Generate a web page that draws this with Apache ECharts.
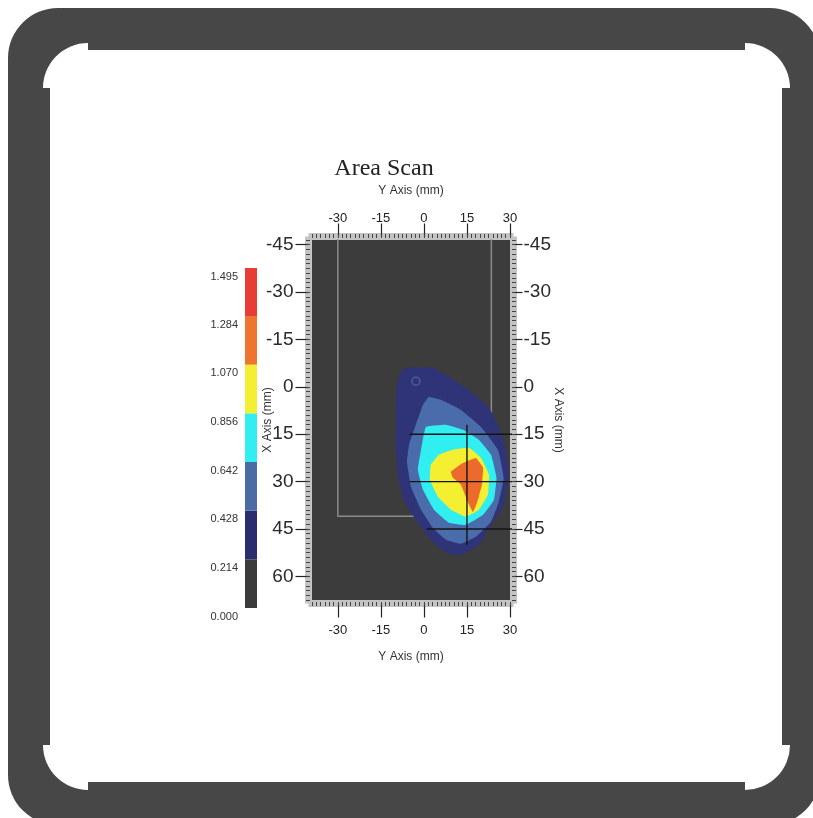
<!DOCTYPE html>
<html><head><meta charset="utf-8">
<script src="https://cdn.jsdelivr.net/npm/echarts@6/dist/echarts.min.js"></script>
<style>html,body{margin:0;padding:0;background:#fff}#c{width:813px;height:818px}</style>
</head><body><div id="c"></div>
<script>
// ---- data ----
const yAxisMmTicks = [-30, -15, 0, 15, 30];                 // horizontal axis (Y Axis mm)
const xAxisMmTicks = [-45, -30, -15, 0, 15, 30, 45, 60];    // vertical axis (X Axis mm)
const colorLevels = [0.000, 0.214, 0.428, 0.642, 0.856, 1.070, 1.284, 1.495];

// contour regions, points as [Y mm, X mm]
const contour0214 = [[-8.0,-4.7],[-6.3,-6.0],[3.1,-6.0],[7.7,-3.8],[16.4,1.6],[22.7,6.6],[25.8,12.0],[28.5,19.9],[29.5,27.8],[28.0,37.3],[23.4,43.7],[19.2,50.0],[12.9,53.2],[7.7,52.5],[2.4,48.4],[-2.8,42.1],[-7.0,35.8],[-9.1,27.8],[-9.8,18.4],[-9.8,7.3],[-9.4,-0.6]];
const contour0428 = [[1.7,3.2],[5.9,4.1],[12.9,7.3],[19.9,12.7],[25.8,19.9],[27.8,28.8],[26.0,36.7],[23.4,42.7],[18.1,47.5],[12.9,49.7],[7.7,48.4],[3.1,44.6],[-1.0,38.9],[-4.5,31.6],[-5.9,23.7],[-5.2,18.4],[-2.8,12.0],[-0.3,5.7]];
const contour0642 = [[0.7,12.7],[7.7,12.0],[13.6,13.6],[19.2,16.8],[23.4,21.5],[25.3,28.8],[24.4,35.8],[20.6,40.5],[14.6,43.7],[8.7,43.0],[3.5,38.9],[-0.3,32.6],[-2.1,26.3],[-1.0,19.9]];
const contour0856 = [[5.2,21.5],[10.1,19.9],[15.7,19.3],[19.9,22.5],[22.7,27.8],[22.3,34.2],[19.2,38.9],[14.6,41.1],[9.4,38.9],[4.9,34.8],[2.1,29.4],[2.4,24.7]];
const contour1070 = [[9.4,26.9],[13.6,24.1],[18.1,22.5],[20.6,25.6],[20.2,31.0],[18.8,35.8],[17.1,39.6],[15.0,35.8],[12.9,31.0],[10.1,28.8]];

const scanOutline = [[-30,-48],[-30,41],[23.5,41],[23.5,-48]];
const scanRows = [
  [[-5,15],[32,15]],
  [[-5,30],[32,30]],
  [[1,45],[32,45]],
  [[15,12],[15,50]]
];
const markerPoint = [[-2.8,-1.8]];

// ---- styles ----
const barColors = ['#3b3b3b','#2b2e6c','#4a6ca6','#33eef0','#f5ef33','#ee7530','#e83c36'];
const fillColors = ['#2f3478','#4b6caa','#31eef1','#f4ef30','#ec6a2c'];
const FONT = 'Liberation Sans';

function mainX(pos, tickLen, margin, gap) {
  return {
    type:'value', gridIndex:0, position:pos, min:-39, max:30, offset:3.5,
    axisLine:{show:true,onZero:false,lineStyle:{color:'#c4c4c4',width:7,cap:'square'}},
    axisTick:{show:true,customValues:yAxisMmTicks,length:tickLen,lineStyle:{color:'#222',width:1.2}},
    axisLabel:{customValues:yAxisMmTicks,margin:margin,fontSize:13,color:'#222',fontFamily:FONT},
    splitLine:{show:false},
    name:'Y Axis (mm)', nameLocation:'middle', nameGap:gap, nameMoveOverlap:false,
    nameTextStyle:{fontSize:12,color:'#333',fontFamily:FONT}
  };
}
function rulerX(pos) {
  return {
    type:'value', gridIndex:0, position:pos, min:-39, max:30, interval:1.5, offset:6, z:5,
    axisLine:{show:false,onZero:false},
    axisTick:{show:true,inside:true,length:4,lineStyle:{color:'#444',width:1}},
    axisLabel:{show:false}, splitLine:{show:false}
  };
}
function mainY(pos, tickLen, margin, gap, rot) {
  return {
    type:'value', gridIndex:0, position:pos, min:-46.5, max:67.5, inverse:true, offset:3.5,
    axisLine:{show:true,onZero:false,lineStyle:{color:'#c4c4c4',width:7,cap:'square'}},
    axisTick:{show:true,customValues:xAxisMmTicks,length:tickLen,lineStyle:{color:'#222',width:1.2}},
    axisLabel:{customValues:xAxisMmTicks,margin:margin,fontSize:19,color:'#2a2a2a',fontFamily:FONT},
    splitLine:{show:false},
    name:'X Axis (mm)', nameLocation:'middle', nameGap:gap, nameRotate:rot, nameMoveOverlap:false,
    nameTextStyle:{fontSize:12,color:'#333',fontFamily:FONT}
  };
}
function rulerY(pos) {
  return {
    type:'value', gridIndex:0, position:pos, min:-46.5, max:67.5, interval:1.5, inverse:true, offset:6, z:5,
    axisLine:{show:false,onZero:false},
    axisTick:{show:true,inside:true,length:4,lineStyle:{color:'#444',width:1}},
    axisLabel:{show:false}, splitLine:{show:false}
  };
}
function polygonSeries(points, color, z) {
  return {
    type:'custom', coordinateSystem:'cartesian2d', xAxisIndex:0, yAxisIndex:0,
    data:points, encode:{x:0,y:1}, clip:true, silent:true, z:z,
    renderItem:function(params, api){
      if (params.dataIndex !== 0) return;
      const pts = points.map(p => api.coord(p));
      return {type:'polygon', shape:{points:pts, smooth:0.1}, style:{fill:color}};
    }
  };
}

const series = [];
series.push({type:'line', xAxisIndex:0, yAxisIndex:0, data:scanOutline, showSymbol:false, silent:true, z:1,
  lineStyle:{color:'#8c8c8c', width:1.5}});
[contour0214, contour0428, contour0642, contour0856, contour1070].forEach((c,i)=>series.push(polygonSeries(c, fillColors[i], 2+i)));
scanRows.forEach(seg=>series.push({type:'line', xAxisIndex:0, yAxisIndex:0, data:seg, showSymbol:false, silent:true, z:8,
  lineStyle:{color:'#141418', width:1.4}}));
series.push({type:'scatter', xAxisIndex:0, yAxisIndex:0, data:markerPoint, symbol:'circle', symbolSize:8, silent:true, z:9,
  itemStyle:{color:'rgba(0,0,0,0)', borderColor:'#5a60a2', borderWidth:1.5}});
colorLevels.slice(1).forEach((v,i)=>series.push({type:'bar', xAxisIndex:4, yAxisIndex:4, stack:'cb', barWidth:'100%', silent:true,
  data:[+(v - colorLevels[i]).toFixed(3)], itemStyle:{color:barColors[i]}}));

const chart = echarts.init(document.getElementById('c'), null, {renderer:'canvas'});
chart.setOption({
  animation:false,
  backgroundColor:'#ffffff',
  textStyle:{fontFamily:FONT},
  title:{text:'Area Scan', left:384, top:157, padding:0, textAlign:'center',
    textStyle:{fontFamily:'Liberation Serif', fontSize:24, fontWeight:'normal', color:'#222'}},
  graphic:{elements:[
    {type:'rect', z:-10, shape:{x:8,y:8,width:812,height:817,r:50}, style:{fill:'#474747'}},
    {type:'rect', z:-9, shape:{x:43,y:43,width:747,height:747,r:45}, style:{fill:'#ffffff'}},
    {type:'rect', z:-8, shape:{x:88,y:43,width:657,height:7}, style:{fill:'#474747'}},
    {type:'rect', z:-8, shape:{x:88,y:782,width:657,height:8}, style:{fill:'#474747'}},
    {type:'rect', z:-8, shape:{x:43,y:88,width:7,height:657}, style:{fill:'#474747'}},
    {type:'rect', z:-8, shape:{x:782,y:88,width:8,height:657}, style:{fill:'#474747'}}
  ]},
  grid:[
    {left:312, top:240, width:198, height:360, show:true, backgroundColor:'#3c3c3c', borderWidth:0},
    {left:245, top:268, width:12, height:340, show:false}
  ],
  xAxis:[
    mainX('bottom', 14, 20, 47),
    mainX('top', 13, 12, 40),
    rulerX('bottom'),
    rulerX('top'),
    {type:'category', gridIndex:1, data:['cb'], show:false}
  ],
  yAxis:[
    mainY('left', 13, 15, 35, 90),
    mainY('right', 9, 10, 39, -90),
    rulerY('left'),
    rulerY('right'),
    {type:'value', gridIndex:1, min:0, max:1.495, position:'left',
      axisLine:{show:false}, axisTick:{show:false}, splitLine:{show:false},
      axisLabel:{customValues:colorLevels, formatter:v=>v.toFixed(3), fontSize:11, margin:7, color:'#333',
        verticalAlign:'top', padding:[3,0,0,0], fontFamily:FONT}}
  ],
  series:series
});
</script></body></html>
